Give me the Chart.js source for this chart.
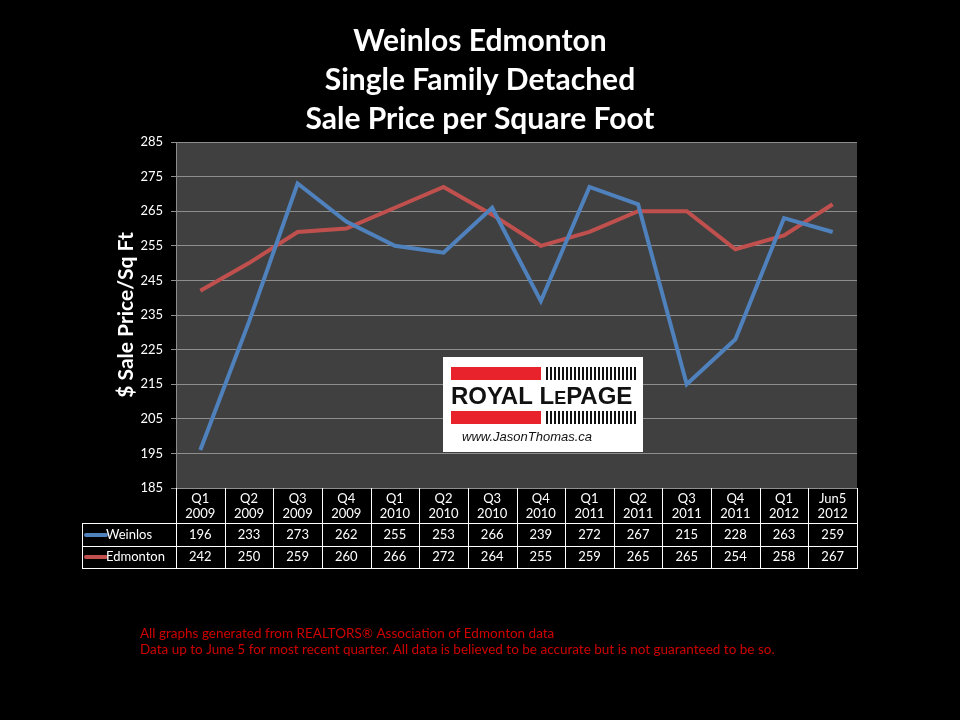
<!DOCTYPE html>
<html>
<head>
    <meta charset="UTF-8">
    <title>Weinlos Edmonton Sale Price per Square Foot</title>
    <script src="https://cdn.jsdelivr.net/npm/chart.js"></script>
    <style>
        html, body {
            margin: 0;
            padding: 0;
            background: #000;
        }
        #chart {
            display: block;
        }
    </style>
</head>
<body>
<canvas id="chart" width="960" height="720"></canvas>

<script>
    var quarters = ['Q1', 'Q2', 'Q3', 'Q4', 'Q1', 'Q2', 'Q3', 'Q4', 'Q1', 'Q2', 'Q3', 'Q4', 'Q1', 'Jun5'];
    var years = ['2009', '2009', '2009', '2009', '2010', '2010', '2010', '2010', '2011', '2011', '2011', '2011', '2012', '2012'];
    var weinlos = [196, 233, 273, 262, 255, 253, 266, 239, 272, 267, 215, 228, 263, 259];
    var edmonton = [242, 250, 259, 260, 266, 272, 264, 255, 259, 265, 265, 254, 258, 267];
    var titleLines = ['Weinlos Edmonton', 'Single Family Detached', 'Sale Price per Square Foot'];
    var footLines = [
        'All graphs generated from REALTORS\u00ae Association of Edmonton data',
        'Data up to June 5 for most recent quarter. All data is believed to be accurate but is not guaranteed to be so.'
    ];

    var BLUE = '#4f81bd';
    var RED = '#c0504d';
    var FONT = 'Lato, "Open Sans", sans-serif';

    // background + plot fill + titles
    var backdrop = {
        id: 'backdrop',
        beforeDraw: function(chart) {
            var c = chart.ctx, a = chart.chartArea;
            c.save();
            c.fillStyle = '#000';
            c.fillRect(0, 0, chart.width, chart.height);
            c.fillStyle = '#404040';
            c.fillRect(a.left, a.top, a.right - a.left, a.bottom - a.top);

            c.fillStyle = '#fff';
            c.textAlign = 'center';
            c.textBaseline = 'middle';
            c.font = 'bold 30px ' + FONT;
            titleLines.forEach(function(t, i) {
                c.fillText(t, 480, 41 + i * 39);
            });

            c.save();
            c.translate(126, 315);
            c.rotate(-Math.PI / 2);
            c.font = 'bold 21px ' + FONT;
            c.fillText('$ Sale Price/Sq Ft', 0, 0);
            c.restore();

            c.textAlign = 'left';
            c.fillStyle = '#d00000';
            c.font = '13.5px ' + FONT;
            footLines.forEach(function(t, i) {
                c.fillText(t, 140, 634 + i * 16);
            });
            c.restore();
        }
    };

    // logo + data table
    var extras = {
        id: 'extras',
        afterDraw: function(chart) {
            var c = chart.ctx, a = chart.chartArea, x = chart.scales.x;
            var half = (a.right - a.left) / quarters.length / 2;
            c.save();

            // logo box
            c.fillStyle = '#fff';
            c.fillRect(443, 357, 200, 95);
            c.fillStyle = '#e8232b';
            c.fillRect(451, 367, 90, 13);
            c.fillRect(451, 411, 90, 13);
            c.fillStyle = '#111';
            for (var s = 0; s < 23; s++) {
                c.fillRect(546 + s * 4, 367, 2, 13);
                c.fillRect(546 + s * 4, 411, 2, 13);
            }
            c.textBaseline = 'alphabetic';
            c.textAlign = 'left';
            c.font = 'bold 24px "Liberation Sans", sans-serif';
            var px = 451;
            c.fillText('ROYAL L', px, 404);
            px += c.measureText('ROYAL L').width;
            c.font = 'bold 18px "Liberation Sans", sans-serif';
            c.fillText('E', px, 404);
            px += c.measureText('E').width;
            c.font = 'bold 24px "Liberation Sans", sans-serif';
            c.fillText('PAGE', px, 404);
            c.font = 'italic 13px "Liberation Sans", sans-serif';
            c.fillText('www.JasonThomas.ca', 462, 441);

            // table grid
            var top = a.bottom, r1 = 523, r2 = 546, r3 = 568, labelLeft = 82;
            c.strokeStyle = '#fff';
            c.lineWidth = 1;
            c.beginPath();
            for (var i = 0; i <= quarters.length; i++) {
                var bx = Math.round(a.left + i * half * 2) + 0.5;
                c.moveTo(bx, top);
                c.lineTo(bx, r3);
            }
            c.moveTo(labelLeft + 0.5, r1);
            c.lineTo(labelLeft + 0.5, r3);
            [r1, r2, r3].forEach(function(y) {
                c.moveTo(labelLeft, y + 0.5);
                c.lineTo(a.right + 1, y + 0.5);
            });
            c.stroke();

            c.fillStyle = '#fff';
            c.textAlign = 'center';
            c.textBaseline = 'middle';
            c.font = '13px ' + FONT;
            for (var j = 0; j < quarters.length; j++) {
                var cx = x.getPixelForValue(j);
                c.fillText(quarters[j], cx, 499);
                c.fillText(years[j], cx, 514);
                c.fillText(String(weinlos[j]), cx, 535);
                c.fillText(String(edmonton[j]), cx, 557);
            }

            // row legends
            c.lineCap = 'round';
            c.lineWidth = 4;
            [[BLUE, 535, 'Weinlos'], [RED, 557, 'Edmonton']].forEach(function(row) {
                c.strokeStyle = row[0];
                c.beginPath();
                c.moveTo(86, row[1]);
                c.lineTo(106, row[1]);
                c.stroke();
                c.textAlign = 'left';
                c.fillText(row[2], 106, row[1]);
            });
            c.restore();
        }
    };

    var ctx = document.getElementById('chart').getContext('2d');
    var chart = new Chart(ctx, {
        type: 'line',
        data: {
            labels: quarters,
            datasets: [{
                label: 'Weinlos',
                data: weinlos,
                borderColor: BLUE,
                borderWidth: 4,
                pointRadius: 0,
                tension: 0
            }, {
                label: 'Edmonton',
                data: edmonton,
                borderColor: RED,
                borderWidth: 4,
                pointRadius: 0,
                tension: 0
            }]
        },
        options: {
            responsive: false,
            animation: false,
            devicePixelRatio: 1,
            layout: {
                padding: { left: 90, right: 103, top: 142, bottom: 232 }
            },
            plugins: {
                legend: { display: false },
                tooltip: { enabled: false }
            },
            scales: {
                x: {
                    offset: true,
                    grid: { display: false, offset: true },
                    border: { display: false },
                    ticks: { display: false },
                    afterFit: function(scale) { scale.height = 0; }
                },
                y: {
                    min: 185,
                    max: 285,
                    ticks: {
                        stepSize: 10,
                        color: '#fff',
                        padding: 8,
                        font: { family: 'Lato', size: 13 }
                    },
                    grid: { color: '#8e8e8e', tickLength: 5 },
                    border: { color: '#8e8e8e' },
                    afterFit: function(scale) { scale.width = 86; }
                }
            }
        },
        plugins: [backdrop, extras]
    });
</script>
</body>
</html>
